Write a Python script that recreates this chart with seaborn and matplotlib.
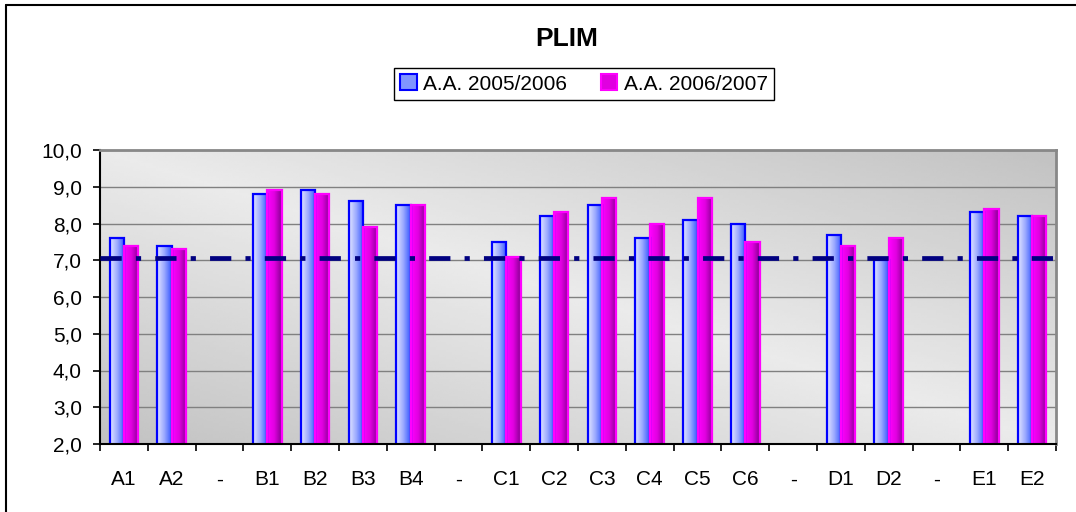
import numpy as np
import pandas as pd
import matplotlib
matplotlib.use("Agg")
import matplotlib.pyplot as plt
from matplotlib.colors import LinearSegmentedColormap
from matplotlib.lines import Line2D
from matplotlib.patches import Rectangle
import seaborn as sns

# data
categories = ["A1", "A2", "-", "B1", "B2", "B3", "B4", "-", "C1", "C2", "C3", "C4",
              "C5", "C6", "-", "D1", "D2", "-", "E1", "E2"]
aa_2005_2006 = [7.6, 7.4, None, 8.8, 8.9, 8.6, 8.5, None, 7.5, 8.2, 8.5, 7.6,
                8.1, 8.0, None, 7.7, 7.0, None, 8.3, 8.2]
aa_2006_2007 = [7.4, 7.3, None, 8.9, 8.8, 7.9, 8.5, None, 7.1, 8.3, 8.7, 8.0,
                8.7, 7.5, None, 7.4, 7.6, None, 8.4, 8.2]
series_names = ["A.A. 2005/2006", "A.A. 2006/2007"]
reference_value = 7.05
y_ticks = [2, 3, 4, 5, 6, 7, 8, 9, 10]


def main():
    rows = []
    for i, (a, b) in enumerate(zip(aa_2005_2006, aa_2006_2007)):
        if a is not None:
            rows.append((i, series_names[0], a))
        if b is not None:
            rows.append((i, series_names[1], b))
    df = pd.DataFrame(rows, columns=["pos", "year", "value"])

    sns.set_style("white")
    plt.rcParams["font.family"] = ["Liberation Sans", "DejaVu Sans"]
    plt.rcParams["text.color"] = "black"
    plt.rcParams["xtick.color"] = "black"
    plt.rcParams["ytick.color"] = "black"

    fig = plt.figure(figsize=(10.76, 5.12), dpi=100)
    ax = fig.add_axes([100 / 1076, 1 - 444 / 512, 956 / 1076, 294 / 512])
    ax.set_facecolor("none")

    edges = ["#0000ff", "#ff00ff"]
    sns.barplot(data=df, x="pos", y="value", hue="year",
                order=list(range(len(categories))), hue_order=series_names,
                palette=edges, width=0.6, saturation=1, legend=False, ax=ax)

    # gradient fills like the old office chart
    cmaps = [
        LinearSegmentedColormap.from_list("blu", ["#e2e5ff", "#9aa8ff", "#3355ff"]),
        LinearSegmentedColormap.from_list("mag", ["#ff00ff", "#e000e0", "#860090"]),
    ]
    grad = np.linspace(0, 1, 64).reshape(1, -1)
    for cont, cmap, edge in zip(ax.containers, cmaps, edges):
        for bar in cont:
            x0, w, h = bar.get_x(), bar.get_width(), bar.get_height()
            ax.imshow(grad, cmap=cmap, extent=[x0, x0 + w, 0, h], aspect="auto",
                      interpolation="bilinear", zorder=1)
            bar.set_facecolor("none")
            bar.set_edgecolor(edge)
            bar.set_linewidth(1.6)
            bar.set_zorder(1.2)

    # grey plot area background
    xx, yy = np.meshgrid(np.linspace(0, 1, 300), np.linspace(0, 1, 120))
    shade = 1 - np.abs(xx + yy - 1)
    bg = 0.76 + (0.92 - 0.76) * shade
    ax.imshow(bg, cmap="gray", vmin=0, vmax=1, extent=[0, 1, 0, 1], origin="lower",
              transform=ax.transAxes, aspect="auto", zorder=0)

    ax.set_xlim(-0.5, len(categories) - 0.5)
    ax.set_ylim(2, 10)
    ax.set_yticks(y_ticks)
    ax.set_yticklabels([f"{t:.1f}".replace(".", ",") for t in y_ticks])
    ax.set_xticks(range(len(categories)))
    ax.set_xticklabels(categories)
    ax.set_xticks(np.arange(-0.5, len(categories), 1), minor=True)
    ax.set_xlabel("")
    ax.set_ylabel("")

    ax.yaxis.grid(True, color="#808080", lw=1)
    ax.set_axisbelow(True)

    ax.axhline(reference_value, color="#000080", lw=3.4,
               linestyle=(0, (4.5, 3.0, 1.1, 3.0)), zorder=3)

    ax.tick_params(axis="y", length=5, width=1.2, color="black", pad=8,
                   labelsize=15, left=True)
    ax.tick_params(axis="x", which="major", length=0, pad=19, labelsize=15)
    ax.tick_params(axis="x", which="minor", length=5, width=1.2, color="black",
                   bottom=True)

    for side in ["left", "bottom"]:
        ax.spines[side].set_color("black")
        ax.spines[side].set_linewidth(1.5)
    for side in ["top", "right"]:
        ax.spines[side].set_color("#888888")
        ax.spines[side].set_linewidth(2)
        ax.spines[side].set_visible(True)

    fig.text(567 / 1076, 1 - 39 / 512, "PLIM", ha="center", va="center",
             fontsize=19, fontweight="bold", color="black")

    handles = [Rectangle((0, 0), 1, 1, facecolor="#8095ff", edgecolor="#0000ff", lw=1.5),
               Rectangle((0, 0), 1, 1, facecolor="#e000e0", edgecolor="#ff00ff", lw=1.5)]
    leg = fig.legend(handles, series_names, loc="center", ncol=2,
                     bbox_to_anchor=(584 / 1076, 1 - 84 / 512), fontsize=15,
                     frameon=True, fancybox=False, edgecolor="black", framealpha=1,
                     handlelength=0.8, handleheight=0.8, handletextpad=0.3,
                     columnspacing=1.6, borderpad=0.3, borderaxespad=0)
    leg.get_frame().set_linewidth(1.0)

    # outer chart border (left and top visible)
    fig.add_artist(Line2D([6 / 1076, 6 / 1076], [0, 1 - 5 / 512],
                          transform=fig.transFigure, color="black", lw=1.5))
    fig.add_artist(Line2D([6 / 1076, 1], [1 - 5 / 512, 1 - 5 / 512],
                          transform=fig.transFigure, color="black", lw=1.5))

    fig.savefig("out.png", dpi=100)


if __name__ == "__main__":
    main()
